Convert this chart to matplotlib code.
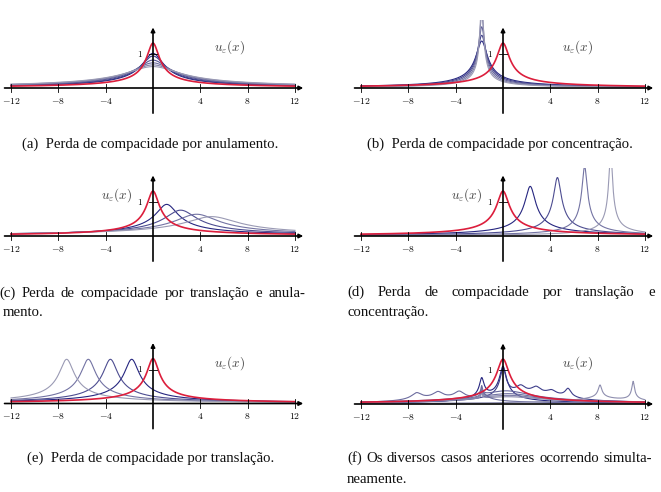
import numpy as np
import matplotlib
matplotlib.use("Agg")
import matplotlib.pyplot as plt
from matplotlib.colors import to_rgb

plt.rcParams["mathtext.fontset"] = "cm"

W, H = 661, 492
ESC_X = 11.83   # px por unidade em x
ESC_Y = 34.0    # px por unidade em y

# ---------------- dados ----------------
ticks_x = [-12, -8, -4, 4, 8, 12]
rot_x = ["$-12$", "$-8$", "$-4$", "$4$", "$8$", "$12$"]

# curva vermelha (perfil u_0)
alt_u0 = 1.32
larg_u0 = 1.0

# (a) anulamento: centro, altura, largura
centro_a = [0, 0, 0, 0, 0, 0]
alt_a = [1.02, 0.94, 0.82, 0.74, 0.68, 0.63]
larg_a = [1.7, 2.0, 2.6, 3.2, 3.8, 4.4]

# (b) concentracao
centro_b = [-1.8, -1.8, -1.8, -1.8, -1.8]
alt_b = [1.38, 1.55, 1.80, 2.20, 2.60]
larg_b = [0.90, 0.70, 0.52, 0.36, 0.26]

# (c) translacao e anulamento
centro_c = [1.16, 2.34, 3.69, 4.96]
alt_c = [0.93, 0.76, 0.64, 0.57]
larg_c = [1.8, 2.6, 3.5, 4.3]

# (d) translacao e concentracao
centro_d = [2.3, 4.6, 6.9, 9.1]
alt_d = [1.46, 1.72, 2.05, 2.50]
larg_d = [0.85, 0.62, 0.42, 0.28]

# (e) translacao
centro_e = [-1.8, -3.6, -5.47, -7.3]
alt_e = [1.30, 1.30, 1.30, 1.30]
larg_e = [1.2, 1.2, 1.2, 1.2]

# (f) varios casos: cada curva = lista de (centro, altura, largura)
comp_f = [
    [(0.0, 1.05, 0.55), (-1.8, 0.62, 0.35)],
    [(0.0, 0.92, 0.45), (1.5, 0.30, 0.8), (2.8, 0.28, 0.8), (4.1, 0.20, 0.8), (5.5, 0.30, 0.45)],
    [(-1.8, 0.28, 0.12), (0.3, 0.38, 4.0)],
    [(-1.8, 0.25, 0.10), (0.5, 0.30, 4.5)],
    [(-1.8, 0.22, 0.10), (0.5, 0.25, 5.0)],
    [(-1.8, 0.20, 0.08), (0.5, 0.21, 5.5)],
    [(-7.3, 0.24, 0.8), (-5.5, 0.24, 0.8), (-3.7, 0.26, 0.8), (-1.8, 0.28, 0.6)],
    [(8.2, 0.42, 0.28), (11.0, 0.58, 0.2), (8.0, 0.12, 4.0)],
]
tom_f = [0.0, 0.2, 0.55, 0.65, 0.75, 0.85, 0.6, 0.9]

# origem (px) de cada painel: x do zero, y do eixo
origem = {"a": (153, 88), "b": (503, 88), "c": (153, 236),
          "d": (503, 236), "e": (153, 403.5), "f": (503, 404)}
pos_rotulo = {"a": (6.5, 1.21), "b": (6.3, 1.2), "c": (-3.07, 1.2),
              "d": (-3.07, 1.2), "e": (6.5, 1.19), "f": (6.3, 1.21)}

legendas = {
    "a": ["(a)  Perda de compacidade por anulamento."],
    "b": ["(b)  Perda de compacidade por concentração."],
    "c": ["(c) Perda de compacidade por translação e anula-", "mento."],
    "d": ["(d) Perda de compacidade por translação e", "concentração."],
    "e": ["(e)  Perda de compacidade por translação."],
    "f": ["(f) Os diversos casos anteriores ocorrendo simulta-", "neamente."],
}
# (x_esq, x_dir, y da linha de base) em px para cada linha
leg_pos = {
    "a": [(150, None, 148)],
    "b": [(500, None, 148)],
    "c": [(-1, 305, 297), (3, None, 316)],
    "d": [(347, 655, 296), (347, None, 316)],
    "e": [(151, None, 462)],
    "f": [(347, 652, 462), (347, None, 483)],
}

AZUL = np.array(to_rgb("#262680"))
CINZA = np.array(to_rgb("#9a9ab4"))
VERMELHO = "#dc1e3c"

x = np.linspace(-12, 12, 4000)


def bump(c, h, s):
    return h / np.sqrt(1 + ((x - c) / (0.5 * s)) ** 2)


def cor(t):
    return AZUL + (CINZA - AZUL) * t


fig = plt.figure(figsize=(W / 100, H / 100), dpi=100)
xmin, xmax, ymin, ymax = -12.9, 13.0, -0.9, 2.0

eixos = {}
for k, (x0, y0) in origem.items():
    left = (x0 + ESC_X * xmin) / W
    width = ESC_X * (xmax - xmin) / W
    bottom = (H - (y0 - ESC_Y * ymin)) / H
    height = ESC_Y * (ymax - ymin) / H
    ax = fig.add_axes([left, bottom, width, height])
    ax.set_xlim(xmin, xmax)
    ax.set_ylim(ymin, ymax)
    ax.axis("off")
    eixos[k] = ax


def familia(ax, centros, alts, largs):
    n = len(centros)
    for i, (c, h, s) in enumerate(zip(centros, alts, largs)):
        t = i / max(n - 1, 1)
        ax.plot(x, bump(c, h, s), color=cor(t), lw=0.8, zorder=2)


familia(eixos["a"], centro_a, alt_a, larg_a)
familia(eixos["b"], centro_b, alt_b, larg_b)
familia(eixos["c"], centro_c, alt_c, larg_c)
familia(eixos["d"], centro_d, alt_d, larg_d)
familia(eixos["e"], centro_e, alt_e, larg_e)
for comps, t in zip(comp_f, tom_f):
    y = sum(bump(c, h, s) for c, h, s in comps)
    eixos["f"].plot(x, y, color=cor(t), lw=0.8, zorder=2)

for k, ax in eixos.items():
    ax.plot(x, bump(0, alt_u0, larg_u0), color=VERMELHO, lw=1.2, zorder=3)
    # eixos com setas
    ax.annotate("", xy=(12.7, 0), xytext=(-12.55, 0), annotation_clip=False,
                arrowprops=dict(arrowstyle="-|>", color="k", lw=1.2,
                                mutation_scale=6, shrinkA=0, shrinkB=0), zorder=5)
    ax.annotate("", xy=(0, 1.78), xytext=(0, -0.74), annotation_clip=False,
                arrowprops=dict(arrowstyle="-|>", color="k", lw=1.2,
                                mutation_scale=6, shrinkA=0, shrinkB=0), zorder=5)
    for tx, rt in zip(ticks_x, rot_x):
        ax.plot([tx, tx], [-0.12, 0.12], color="k", lw=0.6, zorder=5)
        ax.text(tx, -0.37, rt, fontsize=7, ha="center", va="center")
    ax.plot([-0.35, 0.35], [1, 1], color="k", lw=0.6, zorder=5)
    ax.text(-1.1, 1.0, "$1$", fontsize=6.5, ha="center", va="center")
    rx, ry = pos_rotulo[k]
    ax.text(rx, ry, r"$u_\varepsilon(x)$", fontsize=9.5, color="#444444",
            ha="center", va="center")

# legendas: tamanho ajustado para a largura da legenda (a) (~256 px)
rend = fig.canvas.get_renderer()
fam = "Liberation Serif"
teste = fig.text(0, 0, legendas["a"][0], family=fam, fontsize=10)
tam = 10 * 256 / teste.get_window_extent(rend).width
teste.remove()
fonte = dict(family=fam, fontsize=tam, color="#111111", va="baseline")

for k, linhas in legendas.items():
    for texto, (xa, xb, yy) in zip(linhas, leg_pos[k]):
        if xb is None and len(leg_pos[k]) == 1:
            fig.text(xa / W, 1 - yy / H, texto, ha="center", **fonte)
        elif xb is None:
            fig.text(xa / W, 1 - yy / H, texto, ha="left", **fonte)
        else:
            palavras = texto.split()
            txts = [fig.text(0, 0, p, ha="left", **fonte) for p in palavras]
            larg = [t.get_window_extent(rend).width for t in txts]
            gap = (xb - xa - sum(larg)) / (len(palavras) - 1)
            xp = xa
            for t, w in zip(txts, larg):
                t.set_position((xp / W, 1 - yy / H))
                xp += w + gap

fig.savefig("out.png", dpi=100)
